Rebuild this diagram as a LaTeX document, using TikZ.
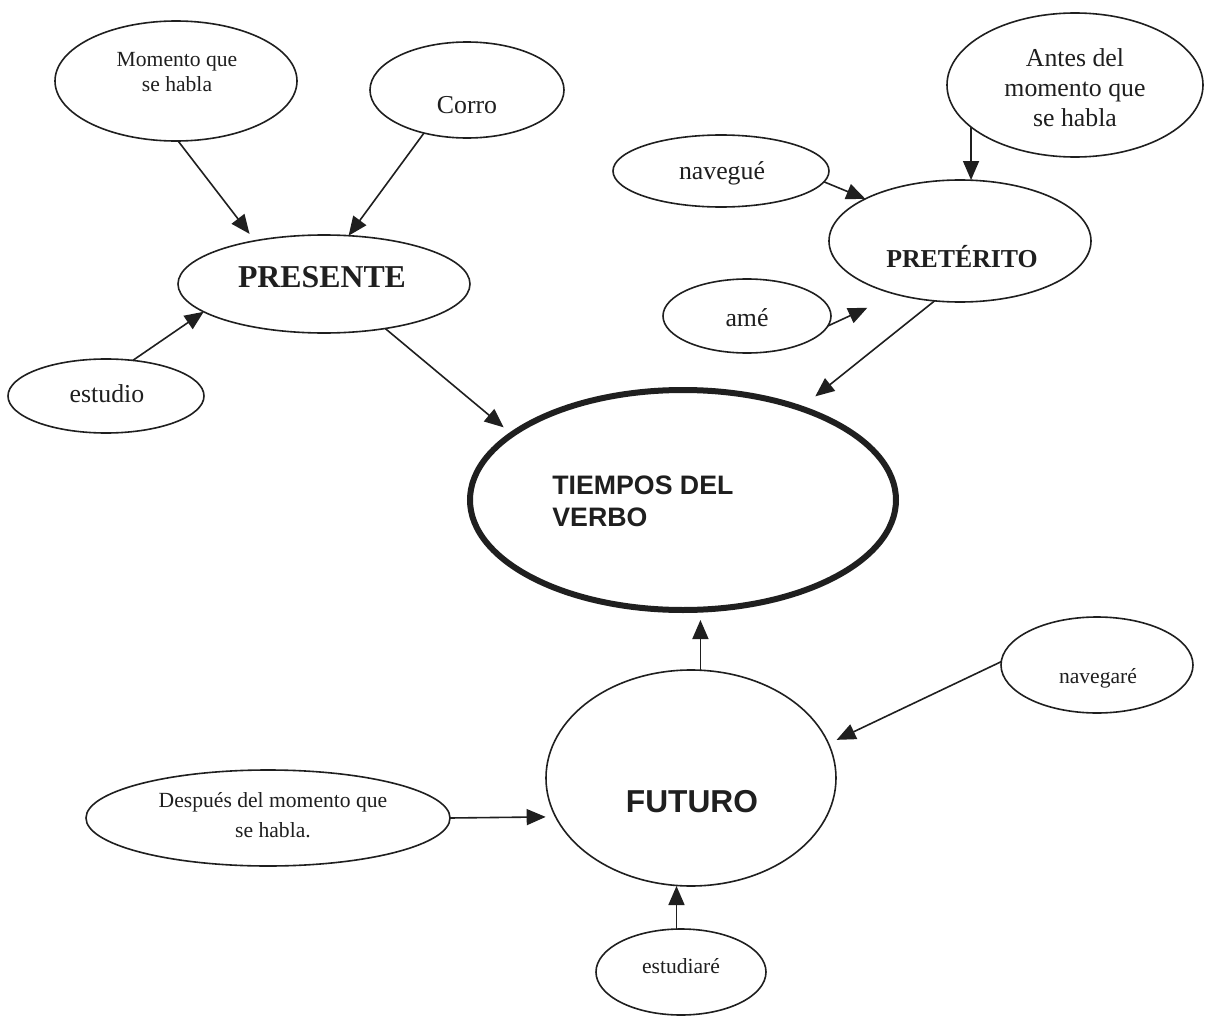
\documentclass[tikz,border=0pt]{standalone}
\usepackage{fontspec}
\setmainfont{Liberation Serif}
\newfontfamily\arialfont{Liberation Sans}
\usetikzlibrary{arrows.meta,shapes.geometric}
\definecolor{ink}{gray}{0.12}
\begin{document}
\begin{tikzpicture}[x=0.5pt,y=-0.5pt,
  bubble/.style={draw=ink, line width=0.8pt, ellipse, inner sep=0pt, outer sep=0pt},
  hub/.style={bubble, line width=3pt},
  lbl/.style={align=center, inner sep=0pt, text=ink},
  small/.style={font=\fontsize{10.8}{12.5}\selectfont},
  normal/.style={font=\fontsize{12.9}{15}\selectfont},
  arr/.style={draw=ink, line width=0.8pt, -{Triangle[length=9.5pt,width=8pt]}}
]
\fill[white] (0,0) rectangle (1212,1017);
\useasboundingbox (0,0) rectangle (1212,1017);

% ---- ellipses ----
\node[bubble, minimum width=121pt, minimum height=60pt] (mom) at (176,81) {};
\node[bubble, minimum width=97pt, minimum height=48pt] (corro) at (467,90) {};
\node[bubble, minimum width=146pt, minimum height=49pt] (pres) at (324,284) {};
\node[bubble, minimum width=98pt, minimum height=37pt] (estudio) at (106,396) {};
\node[bubble, minimum width=108pt, minimum height=36pt] (nave) at (721,171) {};
\node[bubble, minimum width=128pt, minimum height=72pt] (antes) at (1075,85) {};
\node[bubble, minimum width=131pt, minimum height=61pt] (pret) at (960,241) {};
\node[bubble, minimum width=84pt, minimum height=37pt] (ame) at (747,316) {};
\node[hub, minimum width=213pt, minimum height=110pt] (tiempos) at (683,500) {};
\node[bubble, minimum width=96pt, minimum height=48pt] (navegare) at (1097,665) {};
\node[bubble, minimum width=145pt, minimum height=108pt] (futuro) at (691,778) {};
\node[bubble, minimum width=182pt, minimum height=48pt] (despues) at (268,818) {};
\node[bubble, minimum width=85pt, minimum height=43pt] (estudiare) at (681,972) {};

% ---- texts ----
\node[lbl, small] (mom-t) at (177,72) {Momento que\\se habla};
\node[lbl, normal] (corro-t) at (467,105) {Corro};
\node[lbl, font=\bfseries\fontsize{15.9}{18}\selectfont] (pres-t) at (322,277) {PRESENTE};
\node[lbl, normal] (estudio-t) at (107,394) {estudio};
\node[lbl, normal] (nave-t) at (722,173) {navegué};
\node[lbl, normal] (antes-t) at (1075,88) {Antes del\\momento que\\se habla};
\node[lbl, font=\bfseries\fontsize{12.9}{15}\selectfont, anchor=base] (pret-t) at (962,267) {PRETÉRITO};
\node[lbl, normal] (ame-t) at (747,318) {amé};
\node[lbl, align=left, anchor=west, font=\arialfont\bfseries\fontsize{13.35}{16}\selectfont] (tiempos-t) at (552,501) {TIEMPOS DEL\\VERBO};
\node[lbl, small] (navegare-t) at (1098,678) {navegaré};
\node[lbl, font=\arialfont\bfseries\fontsize{15.85}{18}\selectfont] (futuro-t) at (692,802) {FUTURO};
\node[lbl, small, font=\fontsize{10.8}{15}\selectfont] (despues-t) at (273,815) {Después del momento que\\se habla.};
\node[lbl, small] (estudiare-t) at (681,966) {estudiaré};

% ---- connectors ----
\draw[arr, shorten >=4.4pt] (mom.-88) -- (pres.148.3);
\draw[arr] (corro.-135) -- (pres.63.6);
\draw[arr] (estudio.53.9) -- (pres.193);
\draw[arr, shorten >=5.5pt] (pres.-36.2) -- (tiempos.159.4);
\draw[arr] (nave.-6.3) -- (pret.156.2);
\draw[arr] (antes.202) -- (antes.202 |- pret.north);
\draw[arr, shorten >=16pt] (ame.-7.5) -- (pret.220);
\draw[arr, shorten >=9.5pt] (pret.247.7) -- (tiempos.38.5);
\draw[arr, shorten >=5pt] (futuro.85.2) -- (futuro.85.2 |- tiempos.south);
\draw[arr, shorten >=4.5pt] (navegare.178.8) -- (futuro.14.5);
\draw[arr, shorten >=5pt] (despues.east) -- (futuro.196.5);
\draw[arr] (estudiare.96.6) -- (estudiare.96.6 |- futuro.south);
\end{tikzpicture}
\end{document}
